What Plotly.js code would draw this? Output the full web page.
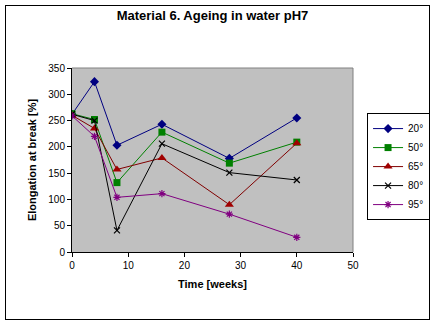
<!DOCTYPE html>
<html>
<head>
<meta charset="utf-8">
<script src="https://cdn.plot.ly/plotly-3.0.1.min.js"></script>
<style>
html,body{margin:0;padding:0;background:#fff;}
#wrap{position:relative;width:436px;height:325px;}
#chart{width:436px;height:325px;}
#frame{position:absolute;left:5px;top:5px;width:423px;height:313px;border:1px solid #000;pointer-events:none;}
</style>
</head>
<body>
<div id="wrap"><div id="chart"></div><div id="frame"></div></div>
<script>
const weeks = [0, 4, 8, 16, 28, 40];
const seriesNames = ["20°", "50°", "65°", "80°", "95°"];
const s20 = [262, 324, 203, 243, 178, 255];
const s50 = [263, 252, 132, 228, 169, 209];
const s65 = [260, 235, 157, 179, 90, 207];
const s80 = [262, 250, 41, 206, 151, 137];
const s95 = [259, 220, 104, 111, 72, 28];
const xTicks = [0, 10, 20, 30, 40, 50];
const yTicks = [0, 50, 100, 150, 200, 250, 300, 350];

const values = [s20, s50, s65, s80, s95];
const lineColors = ["#000080", "#008000", "#800000", "#000000", "#800080"];
const markerColors = ["#000080", "#008000", "#a00000", "#000000", "#800080"];
const symbols = ["diamond", "square", "triangle-up", "x-thin-open", "asterisk-open"];
const sizes = [7, 7, 8, 6, 6];

const traces = values.map((v, i) => ({
  x: weeks, y: v, name: seriesNames[i], type: "scatter", mode: "lines+markers",
  line: {color: lineColors[i], width: 1},
  marker: {symbol: symbols[i], size: sizes[i], color: markerColors[i],
           line: {color: markerColors[i], width: (i >= 3 ? 1.2 : 0)}}
}));

const font = {family: "Liberation Sans, Arial, sans-serif", color: "#000"};
const layout = {
  width: 436, height: 325,
  margin: {l: 72, r: 83, t: 68, b: 73, autoexpand: false},
  paper_bgcolor: "#fff", plot_bgcolor: "#c0c0c0",
  font: Object.assign({size: 10}, font),
  title: {text: "<b>Material 6. Ageing in water pH7</b>", font: Object.assign({size: 13}, font),
          x: 0.5, xanchor: "center", xref: "paper", y: 0.952, yanchor: "middle"},
  xaxis: {range: [0, 50], tickvals: xTicks, ticks: "outside", ticklen: 4, tickcolor: "#000",
          showgrid: false, zeroline: false, showline: true, linecolor: "#000", linewidth: 1,
          tickfont: Object.assign({size: 10}, font),
          title: {text: "<b>Time [weeks]</b>", font: Object.assign({size: 11}, font), standoff: 10}},
  yaxis: {range: [0, 350], tickvals: yTicks, ticks: "outside", ticklen: 4, tickcolor: "#000",
          showgrid: false, zeroline: false, showline: true, linecolor: "#000", linewidth: 1,
          tickfont: Object.assign({size: 10}, font),
          title: {text: "<b>Elongation at break [%]</b>", font: Object.assign({size: 11}, font), standoff: 9}},
  shapes: [
    {type: "line", xref: "paper", yref: "paper", x0: 0, x1: 1, y0: 1, y1: 1, line: {color: "#808080", width: 1}},
    {type: "line", xref: "paper", yref: "paper", x0: 1, x1: 1, y0: 0, y1: 1, line: {color: "#808080", width: 1}}
  ],
  showlegend: true,
  legend: {x: 1.05, xanchor: "left", y: 0.755, yanchor: "top", bordercolor: "#000", borderwidth: 1,
           bgcolor: "#fff", font: Object.assign({size: 10}, font), tracegroupgap: 0, itemwidth: 30}
};
Plotly.newPlot("chart", traces, layout, {displayModeBar: false, staticPlot: true});
</script>
</body>
</html>
